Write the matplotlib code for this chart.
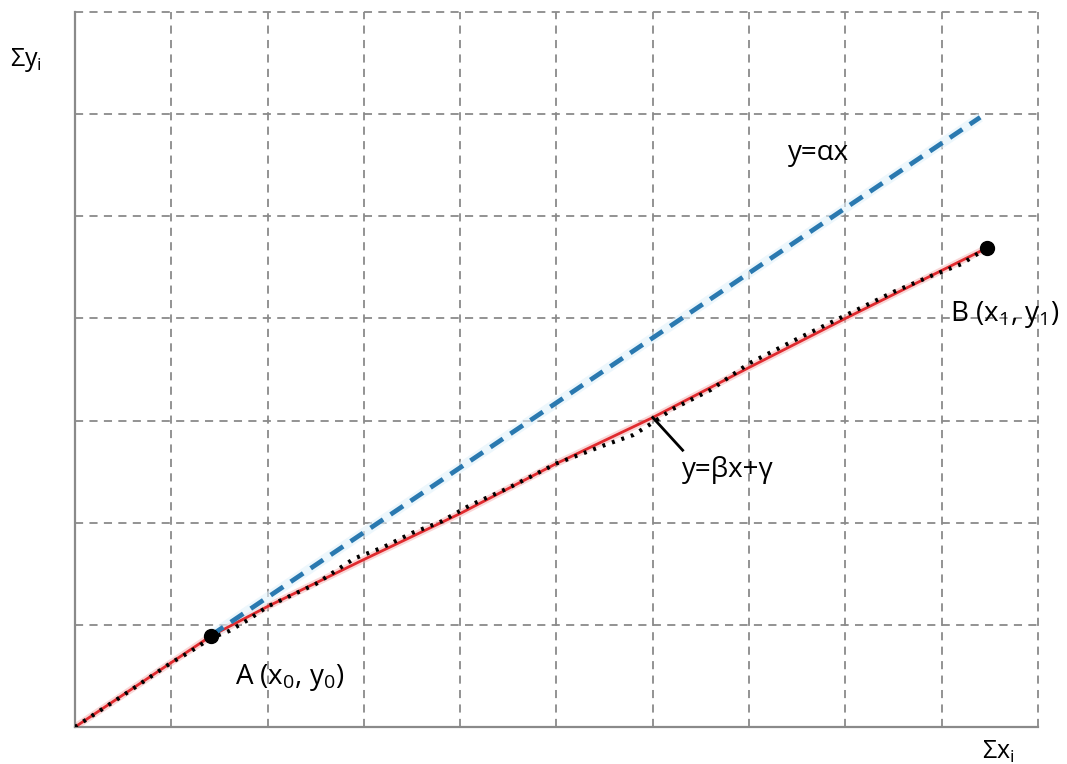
import numpy as np
import matplotlib
matplotlib.use('Agg')
import matplotlib.pyplot as plt

plt.rcParams['font.family'] = ['Open Sans', 'DejaVu Sans']
plt.rcParams['mathtext.fontset'] = 'custom'
plt.rcParams['mathtext.rm'] = 'Open Sans'

# cumulative data (black dotted)
data_x = [0, 0.5, 1.0, 1.2, 1.41, 1.6, 1.8, 2.0, 2.5, 2.9, 3.2, 3.5, 3.8, 4.1, 4.5,
          5.0, 5.5, 5.8, 6.0, 6.2, 6.6, 7.0, 7.5, 8.0, 8.5, 8.9, 9.2, 9.47]
data_y = [0, 0.31, 0.63, 0.74, 0.87, 0.94, 1.05, 1.18, 1.40, 1.65, 1.76, 1.90, 2.01, 2.17, 2.34,
          2.58, 2.76, 2.86, 2.98, 3.11, 3.30, 3.56, 3.80, 4.03, 4.26, 4.42, 4.53, 4.69]

# fitted line y = beta*x + gamma (red)
fit_x = [0, 1.41, 2.0, 3.0, 4.0, 5.0, 6.0, 7.0, 8.0, 9.47]
fit_y = [0, 0.89, 1.18, 1.64, 2.09, 2.58, 3.03, 3.52, 4.0, 4.69]

# y = alpha*x (blue dashed), from A onward
alpha = 0.635
alpha_x = [1.41, 9.40]

pt_A = (1.41, 0.89)
pt_B = (9.47, 4.69)

fig = plt.figure(figsize=(10.67, 7.64), dpi=100)
ax = fig.add_axes([0.0703, 0.0484, 0.9025, 0.9359])
ax.set_xlim(0, 10)
ax.set_ylim(0, 7)
ax.set_xticks(np.arange(0, 11, 1))
ax.set_yticks(np.arange(0, 8, 1))
ax.tick_params(length=0, labelbottom=False, labelleft=False)
ax.grid(True, color='#8a8a8a', linestyle=(0, (4.5, 3.5)), linewidth=1.3)
for gl in ax.get_xgridlines() + ax.get_ygridlines():
    gl.set_clip_on(False)
for s in ['top', 'right']:
    ax.spines[s].set_visible(False)
for s in ['left', 'bottom']:
    ax.spines[s].set_color('#8a8a8a')
    ax.spines[s].set_linewidth(1.6)

ax.plot(fit_x, fit_y, color='#f4b0b0', lw=5, alpha=0.5, zorder=2)
ax.plot(fit_x, fit_y, color='#e02a2e', lw=2.0, zorder=3)
ax.plot(data_x, data_y, color='black', lw=3.0, linestyle=(0, (0.7, 1.7)), zorder=4)

ay = [alpha * v for v in alpha_x]
ax.plot(alpha_x, ay, color='#e2f2fb', lw=7, alpha=0.6, zorder=2, solid_capstyle='butt')
ax.plot(alpha_x, ay, color='#2a79b0', lw=3.4, dashes=(3.2, 1.9), zorder=5)

ax.plot(*pt_A, 'o', color='black', ms=10, zorder=6)
ax.plot(*pt_B, 'o', color='black', ms=10, zorder=6)

fs = 20
ax.text(7.40, 5.62, 'y=αx', fontsize=fs, ha='left', va='center')
ax.text(6.30, 2.52, 'y=βx+γ', fontsize=fs, ha='left', va='center')
ax.plot([6.0, 6.31], [3.03, 2.71], color='black', lw=2, zorder=6)
ax.text(1.66, 0.48, r'A (x$_\mathregular{0}$, y$_\mathregular{0}$)', fontsize=fs, ha='left', va='center')
ax.text(9.09, 4.04, r'B (x$_\mathregular{1}$, y$_\mathregular{1}$)', fontsize=fs, ha='left', va='center',
        clip_on=False)
ax.text(-0.67, 6.53, r'Σy$_\mathregular{i}$', fontsize=18, ha='left', va='center', clip_on=False)
ax.text(9.42, -0.245, r'Σx$_\mathregular{i}$', fontsize=18, ha='left', va='center', clip_on=False)

fig.savefig('out.png', dpi=100)
